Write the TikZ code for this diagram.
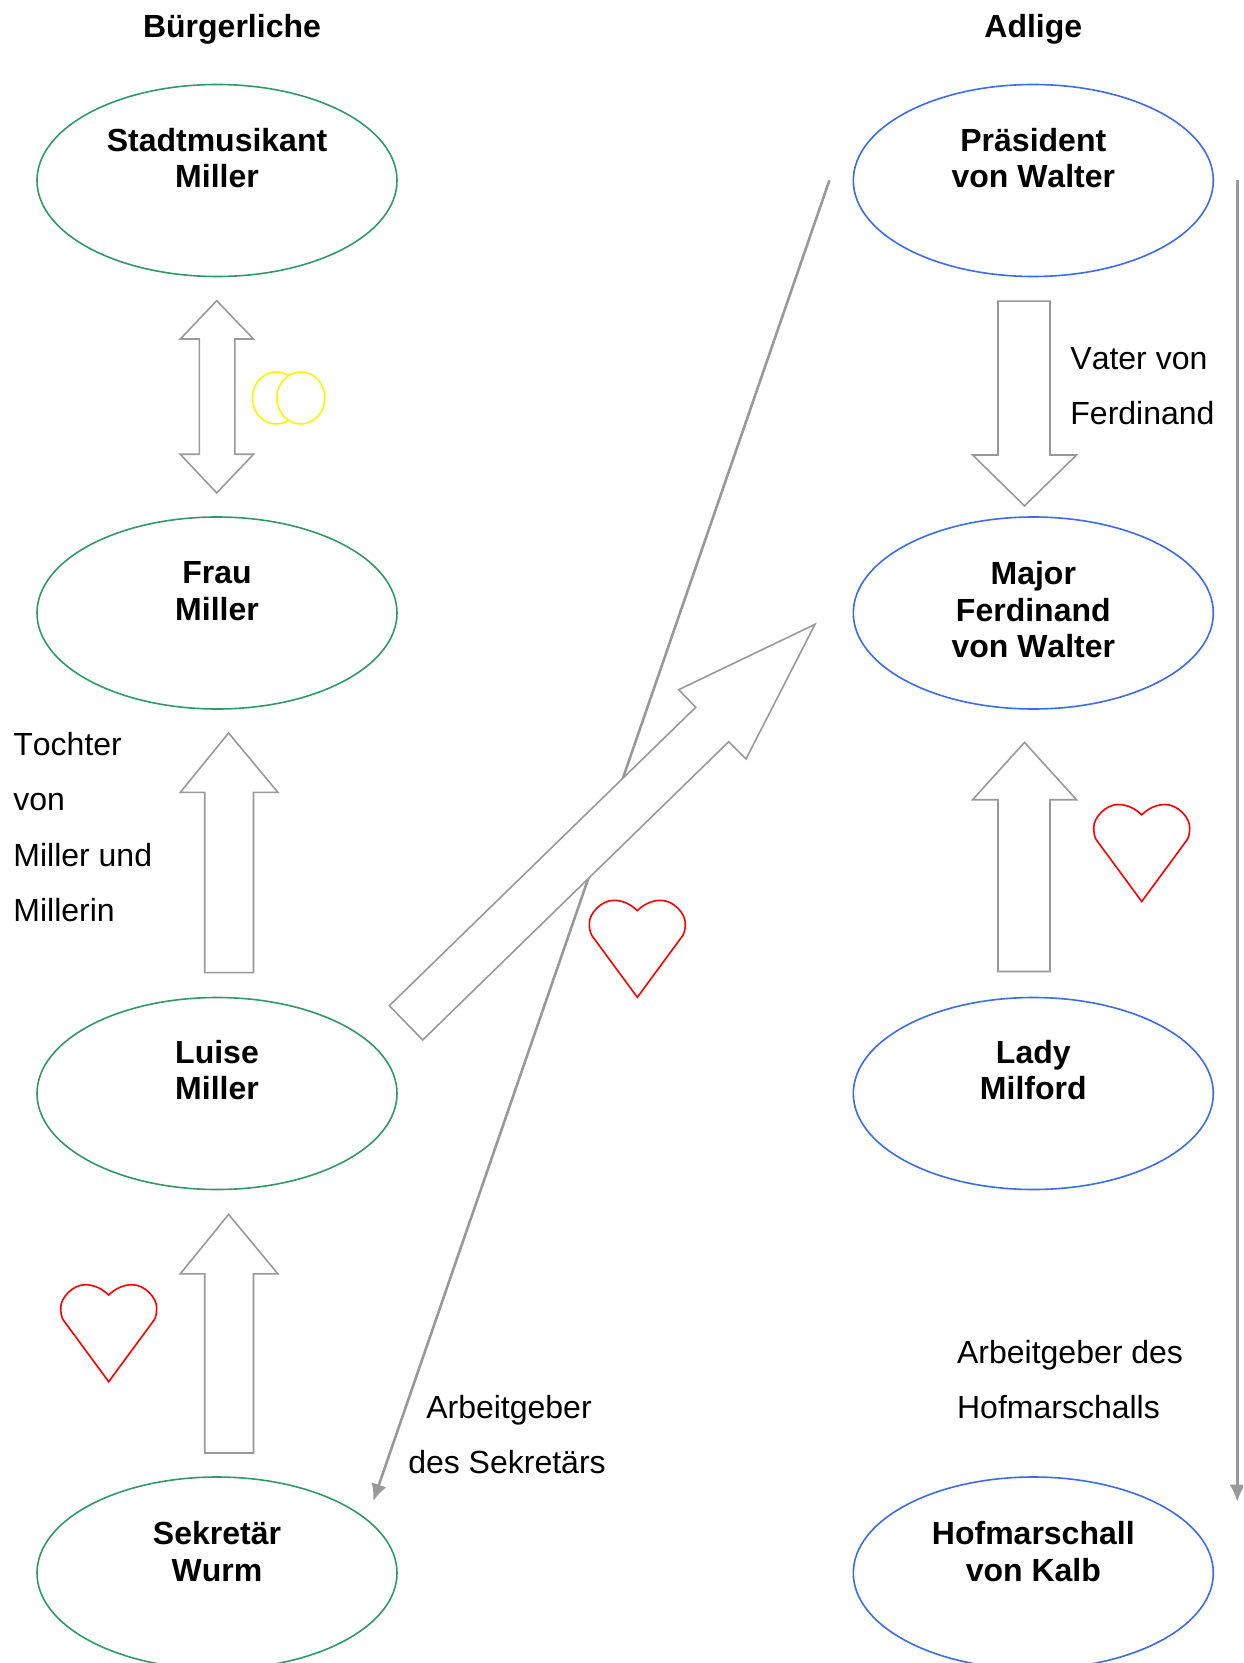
\documentclass[tikz,border=0pt]{standalone}
\usepackage{fontspec}
\setmainfont{Liberation Sans}[Kerning=Off]
\usepackage{xcolor}
\usetikzlibrary{arrows.meta,calc,shapes.geometric}
\definecolor{buerger}{HTML}{2F9A68}
\definecolor{adel}{HTML}{3A6BF0}
\definecolor{pfeil}{HTML}{999999}

\begin{document}
\begin{tikzpicture}[x=0.5pt,y=-0.5pt,
		%Option for the person ovals%
		person/.style={ellipse,inner sep=0pt,minimum width=180pt,minimum height=96pt,line width=0.8pt},
		buergerlich/.style={person,draw=buerger},
		adlig/.style={person,draw=adel},
		%% texts
		rolle/.style={anchor=north,inner sep=0pt,align=center,font=\fontsize{16}{18.3}\selectfont\bfseries},
		titel/.style={inner sep=0pt,anchor=north,font=\fontsize{16}{18.3}\selectfont\bfseries},
		notiz/.style={inner sep=0pt,anchor=north west,align=left,font=\fontsize{16}{27.7}\selectfont},
		%% arrows
		blockpfeil/.style={draw=pfeil,fill=white,line width=0.8pt,miter limit=10},
		linie/.style={draw=pfeil,line width=1.3pt,-{Latex[length=8.5pt,width=7.8pt]}},
		ehe/.style={draw=yellow,fill=white,line width=0.8pt},
		liebe/.style={draw=red,line width=0.8pt},
		pics/herz/.style={code={
			\draw[liebe] (0,0) -- (-45.4,-61.7) .. controls (-47.5,-65) and (-48,-70) .. (-48,-74)
				.. controls (-48,-84) and (-36,-97) .. (-23.5,-97)
				.. controls (-14,-97) and (-6,-92.5) .. (0,-86.7)
				.. controls (6,-92.5) and (14,-97) .. (23.5,-97)
				.. controls (36,-97) and (48,-84) .. (48,-74)
				.. controls (48,-70) and (47.5,-65) .. (45.4,-61.7) -- cycle;
		}}
		]
		%% some definitions
		\def\xL{217}    % left column
		\def\xR{1033.3} % right column
		%
	\useasboundingbox (0,0) rectangle (1243,1663);
	\clip (0,0) rectangle (1243,1663);
	
	%% column heads
	\node[titel] (kopfL) at (232,13.5) {Bürgerliche};
	\node[titel] (kopfR) at (\xR,13.5) {Adlige};
	
	%% the ovals
	\node[buergerlich] (miller) at (\xL,180.5) {};
	\node[buergerlich] (frau) at (\xL,613) {};
	\node[buergerlich] (luise) at (\xL,1093.5) {};
	\node[buergerlich] (wurm) at (\xL,1573) {};
	\node[adlig] (praesident) at (\xR,180.5) {};
	\node[adlig] (major) at (\xR,613) {};
	\node[adlig] (lady) at (\xR,1093.5) {};
	\node[adlig] (kalb) at (\xR,1573) {};
	
	\node[rolle] (millerT) at ($(miller.center)+(0,-52.7)$) {Stadtmusikant\\Miller};
	\node[rolle] (frauT) at ($(frau.center)+(0,-52)$) {Frau\\Miller};
	\node[rolle] (luiseT) at ($(luise.center)+(0,-54)$) {Luise\\Miller};
	\node[rolle] (wurmT) at ($(wurm.center)+(0,-52)$) {Sekretär\\Wurm};
	\node[rolle] (praesidentT) at ($(praesident.center)+(0,-52.7)$) {Präsident\\von Walter};
	\node[rolle] (majorT) at ($(major.center)+(0,-52)$) {Major\\Ferdinand\\von Walter};
	\node[rolle] (ladyT) at ($(lady.center)+(0,-54)$) {Lady\\Milford};
	\node[rolle] (kalbT) at ($(kalb.center)+(0,-52)$) {Hofmarschall\\von Kalb};
	
	%% thin lines, they run below the big arrow
	\coordinate (obenM) at (829.4,180.3);
	\coordinate (untenM) at (373.3,1501);
	\coordinate (obenR) at (1237.3,180.3);
	\coordinate (untenR) at (1237.3,1501.7);
	\draw[linie] (obenM) -- (untenM);
	\draw[linie] (obenR) -- (untenR);
	
	%% block arrows
	\draw[blockpfeil] (216.7,300.7) -- (253.5,339) -- (234.9,339) -- (234.9,454.3) -- (253.5,454.3)
		-- (216.7,492.9) -- (180.3,454.3) -- (199.3,454.3) -- (199.3,339) -- (180.3,339) -- cycle;
	\foreach \yTop/\yWing/\yEnd in {733/792.3/972.6,1214.4/1273.8/1453}
		\draw[blockpfeil] (228.6,\yTop) -- (277.9,\yWing) -- (253.5,\yWing) -- (253.5,\yEnd)
			-- (204.7,\yEnd) -- (204.7,\yWing) -- (180.3,\yWing) -- cycle;
	\draw[blockpfeil] (998,301.2) -- (1050,301.2) -- (1050,455) -- (1076.5,455) -- (1024.5,505.9)
		-- (972.6,455) -- (998,455) -- cycle;
	\draw[blockpfeil] (1024.5,742.4) -- (1076.5,799.7) -- (1050,799.7) -- (1050,971.5)
		-- (998,971.5) -- (998,799.7) -- (972.6,799.7) -- cycle;
	\draw[blockpfeil] (815,624.3) -- (678.7,689.7) -- (695.7,707.3) -- (389.3,1005.7)
		-- (422.7,1040) -- (728.7,741.7) -- (746,759) -- cycle;
	
	%% marriage and hearts
	\draw[ehe] (276.4,398) ellipse (24 and 26);
	\draw[ehe] (300.9,398) ellipse (24 and 26);
	\foreach \xH/\yH in {637.3/997.3,1141.7/901.5,108.7/1381.7}
		\pic at (\xH,\yH) {herz};
	
	%% notes
	\node[notiz] (vater) at (1070,347) {Vater von\\Ferdinand};
	\node[notiz] (tochter) at (13,731.7) {Tochter\\von\\Miller und\\Millerin};
	\node[notiz,align=center,anchor=north] (sekr) at (507,1394.6) {\hspace*{2pt}Arbeitgeber\\des Sekretärs};
	\node[notiz] (hofm) at (956.7,1339.7) {Arbeitgeber des\\Hofmarschalls};
	
\end{tikzpicture}
\end{document}
